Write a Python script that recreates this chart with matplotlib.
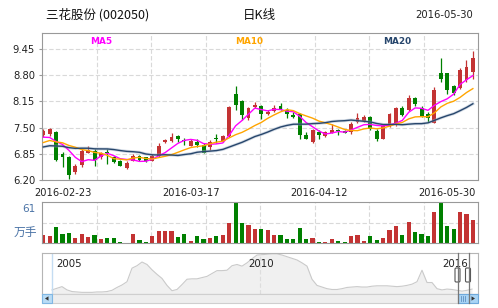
import numpy as np
import pandas as pd
import matplotlib
matplotlib.use('Agg')
import matplotlib.pyplot as plt
from matplotlib.patches import Rectangle, FancyBboxPatch, Polygon

# daily K-line, 三花股份 (002050)
open_ = [7.32, 7.33, 7.38, 6.85, 6.76, 6.41, 6.57, 6.88, 6.93, 6.76,
         6.90, 6.76, 6.67, 6.49, 6.68, 6.80, 6.76, 6.67, 6.80, 7.14,
         7.18, 7.29, 7.19, 7.05, 7.14, 7.07, 7.03, 7.24, 7.18, 7.29,
         8.33, 8.16, 7.73, 8.02, 8.04, 7.83, 7.91, 8.04, 7.95, 7.81,
         7.85, 7.32, 7.14, 7.40, 7.30, 7.36, 7.44, 7.42, 7.40, 7.65,
         7.67, 7.77, 7.42, 7.22, 7.54, 7.57, 8.00, 7.94, 8.23, 8.00,
         7.84, 7.62, 8.86, 8.85, 8.53, 8.48, 8.68, 8.89]
high = [7.47, 7.48, 7.42, 6.90, 6.80, 6.59, 6.97, 7.05, 6.97, 6.90,
        6.96, 6.80, 6.70, 6.66, 6.84, 6.82, 6.78, 6.84, 7.11, 7.23,
        7.36, 7.32, 7.25, 7.21, 7.23, 7.11, 7.19, 7.33, 7.32, 8.04,
        8.53, 8.19, 8.02, 8.14, 8.06, 7.94, 8.06, 8.10, 7.98, 7.90,
        7.87, 7.38, 7.46, 7.44, 7.42, 7.58, 7.46, 7.44, 7.63, 7.87,
        7.81, 7.79, 7.46, 7.57, 7.87, 8.02, 8.04, 8.31, 8.27, 8.04,
        7.90, 8.50, 9.22, 8.86, 8.57, 8.97, 9.18, 9.40]
low = [7.26, 7.29, 6.68, 6.53, 6.22, 6.35, 6.53, 6.86, 6.55, 6.71,
       6.59, 6.61, 6.55, 6.47, 6.66, 6.67, 6.64, 6.66, 6.78, 7.11,
       7.14, 7.14, 7.07, 7.04, 7.01, 6.86, 6.94, 7.13, 7.15, 7.28,
       7.94, 7.69, 7.69, 8.00, 7.71, 7.81, 7.90, 7.94, 7.73, 7.73,
       7.23, 7.21, 7.13, 7.23, 7.28, 7.36, 7.32, 7.36, 7.33, 7.62,
       7.65, 7.44, 7.17, 7.21, 7.52, 7.55, 7.79, 7.92, 8.04, 7.76,
       7.65, 7.61, 8.64, 8.33, 8.31, 8.45, 8.64, 8.70]
close = [7.42, 7.46, 6.70, 6.78, 6.32, 6.55, 6.93, 6.94, 6.70, 6.86,
         6.88, 6.64, 6.56, 6.61, 6.80, 6.70, 6.66, 6.80, 7.05, 7.19,
         7.28, 7.23, 7.17, 7.17, 7.07, 6.88, 7.15, 7.21, 7.29, 8.02,
         8.06, 7.81, 7.98, 8.06, 7.83, 7.90, 8.00, 7.96, 7.85, 7.77,
         7.32, 7.23, 7.44, 7.32, 7.40, 7.44, 7.42, 7.36, 7.59, 7.73,
         7.76, 7.46, 7.23, 7.54, 7.84, 7.98, 7.81, 8.24, 8.08, 7.79,
         7.73, 8.43, 8.70, 8.43, 8.37, 8.93, 9.01, 9.22]
# closes before the visible window (only used to warm up the moving averages)
prior_close = [6.85, 6.80, 6.95, 7.00, 6.90, 6.85, 6.95, 7.00, 6.90, 6.90,
               6.95, 7.05, 7.00, 6.98, 7.00, 7.50, 7.20, 7.15, 7.05]
# volume, 万手
volume = [12.2, 10.7, 23.9, 13.7, 15.1, 7.8, 13.7, 9.3, 12.2, 6.3,
          7.8, 7.8, 2.0, 0.5, 13.7, 4.9, 2.0, 10.7, 18.1, 18.1,
          18.1, 9.3, 13.7, 3.4, 10.7, 6.3, 7.8, 10.7, 12.2, 29.8,
          59.0, 29.8, 26.8, 21.0, 21.0, 19.5, 12.2, 12.2, 6.3, 6.3,
          22.4, 6.3, 7.8, 2.0, 2.0, 6.3, 3.4, 2.0, 10.7, 12.2,
          3.4, 10.7, 4.9, 7.8, 19.5, 25.9, 12.2, 31.7, 16.6, 13.7,
          10.7, 45.8, 59.0, 25.4, 21.0, 45.8, 42.9, 34.1]
date_labels = ['2016-02-23', '2016-03-17', '2016-04-12', '2016-05-30']
date_pos = [3, 23, 43, 63]
price_ticks = [6.20, 6.85, 7.50, 8.15, 8.80, 9.45]
ma_windows = [5, 10, 20]
ma_colors = ['#ff00ff', '#ffa500', '#27466c']

# navigator: long history 2005-2016 (relative level)
nav_level = [0.10, 0.14, 0.18, 0.10, 0.06, 0.05, 0.04, 0.04, 0.04, 0.05,
             0.05, 0.06, 0.09, 0.16, 0.22, 0.30, 0.63, 0.69, 0.78, 0.72,
             0.59, 0.48, 0.38, 0.21, 0.08, 0.11, 0.23, 0.36, 0.37, 0.37,
             0.40, 0.43, 0.50, 0.57, 0.57, 0.58, 0.69, 0.72, 0.68, 0.76,
             0.86, 0.95, 0.96, 0.97, 0.98, 0.98, 0.95, 0.91, 0.87, 0.83,
             0.76, 0.68, 0.36, 0.21, 0.17, 0.13, 0.11, 0.11, 0.13, 0.16,
             0.17, 0.18, 0.17, 0.17, 0.19, 0.20, 0.20, 0.20, 0.19, 0.18,
             0.19, 0.21, 0.24, 0.30, 0.58, 0.28, 0.28, 0.13, 0.10, 0.12,
             0.11, 0.09, 0.07, 0.09, 0.12]
nav_years = ['2005', '2010', '2016']
nav_year_pos = [0.8, 41.8, 78.0]

RED = '#c33333'
GREEN = '#008000'
GRID = '#d9d9d9'
FRAME = '#999999'
CJK = ['Noto Sans CJK SC', 'DejaVu Sans']

W, H = 498, 308
fig = plt.figure(figsize=(W / 100, H / 100), dpi=100)
fig.patch.set_facecolor('white')


def box(l, t, r, b):
    return [l / W, 1 - b / H, (r - l) / W, (b - t) / H]


def text(x, y, s, **kw):
    kw.setdefault('va', 'center')
    fig.text(x / W, 1 - y / H, s, **kw)


o = np.array(open_)
c = np.array(close)
x = np.arange(len(c))
colors = np.where(c >= o, RED, GREEN)
xlim = (-0.2, len(c) - 0.2)
xgrid = np.linspace(xlim[0], xlim[1], 9)[1:-1]


def style(a):
    for s in a.spines.values():
        s.set_color(FRAME)
        s.set_linewidth(0.8)
    a.set_axisbelow(True)


# main K-line panel
ax = fig.add_axes(box(42, 33, 478, 180))
style(ax)
ax.vlines(x, low, high, colors=colors, lw=0.9)
body = np.maximum(np.abs(c - o), 0.02)
ax.bar(x, body, bottom=np.minimum(o, c), width=0.6, color=colors, linewidth=0)

allc = pd.Series(prior_close + close)
for n, col in zip(ma_windows, ma_colors):
    ma = allc.rolling(n).mean().to_numpy()[len(prior_close):]
    if n == 20:
        ax.plot(x, ma, color='#9fb0c6', lw=2.2, alpha=0.45, zorder=2)
    ax.plot(x, ma, color=col, lw=1.0, zorder=3)

ax.set_xlim(*xlim)
ax.set_ylim(6.20, 9.85)
ax.set_yticks(price_ticks)
ax.set_yticklabels(['%.2f' % v for v in price_ticks])
ax.set_xticks(xgrid)
ax.set_xticklabels([])
ax.set_xticks(date_pos, minor=True)
ax.set_xticklabels(date_labels, minor=True)
ax.tick_params(axis='x', which='both', length=0, pad=6, labelsize=7.1, labelcolor='#222')
ax.tick_params(axis='y', length=2.5, color=FRAME, pad=2.5, labelsize=7.2, labelcolor='#222')
ax.grid(True, which='major', color=GRID, lw=0.8, ls=(0, (4, 2)))

text(101, 42, 'MA5', color=ma_colors[0], fontsize=6.4, weight='bold', ha='center')
text(249, 42, 'MA10', color=ma_colors[1], fontsize=6.4, weight='bold', ha='center')
text(397, 42, 'MA20', color=ma_colors[2], fontsize=6.4, weight='bold', ha='center')

text(46, 15, '三花股份 (002050)', fontsize=9, ha='left', family=CJK, color='#111')
text(259, 15, '日K线', fontsize=9, ha='center', family=CJK, color='#111')
text(473, 15, '2016-05-30', fontsize=7.2, ha='right', color='#222')

# volume panel
av = fig.add_axes(box(42, 202, 478, 243))
style(av)
av.bar(x, volume, width=0.65, color=colors, linewidth=0)
av.set_xlim(*xlim)
av.set_ylim(0, 61)
av.set_xticks(xgrid)
av.set_yticks([30.5])
av.tick_params(length=0, labelbottom=False, labelleft=False)
av.grid(True, color=GRID, lw=0.8, ls=(0, (4, 2)))
text(35, 209, '61', fontsize=7.5, ha='right', color='#4a73a6')
text(37, 233, '万手', fontsize=8.5, ha='right', color='#4a73a6', family=CJK)

# navigator
an = fig.add_axes(box(42, 253, 478, 294))
for s in an.spines.values():
    s.set_color('#b5b5b5')
    s.set_linewidth(0.8)
nx = np.arange(len(nav_level))
an.fill_between(nx, nav_level, 0, color='#f0f0f0', lw=0)
an.plot(nx, nav_level, color='#cacaca', lw=0.8)
an.axvline(0, color='#c4dcf2', lw=1)
an.axvline(41.6, color='#dddddd', lw=0.8, ls=(0, (4, 2)))
an.set_xlim(-2, 85.2)
an.set_ylim(0, 1.0)
an.set_xticks([])
an.set_yticks([])
for yr, p in zip(nav_years, nav_year_pos):
    an.text(p, 0.74, yr, fontsize=7.4, color='#222', ha='left' if yr != '2010' else 'center',
            va='center')

# scrollbar, handles and outline drawn in pixel space
ov = fig.add_axes([0, 0, 1, 1])
ov.set_xlim(0, W)
ov.set_ylim(H, 0)
ov.axis('off')
ov.patch.set_alpha(0)
ov.add_patch(Rectangle((42, 294), 436, 9, fc='#eeeeee', ec='#cfcfcf', lw=0.8))
ov.add_patch(Rectangle((42, 294), 10, 9, fc='#b9dcf6', ec='#80b7e3', lw=0.8))
ov.add_patch(Polygon([(45, 298.5), (48.5, 296.3), (48.5, 300.7)], closed=True, fc='#333', ec='none'))
ov.add_patch(Rectangle((457.5, 294), 11, 9, fc='#a9d4f5', ec='#6fa9db', lw=0.8))
for gx in (461, 463, 465):
    ov.plot([gx, gx], [296, 301], color='#5f8fc0', lw=0.6)
ov.add_patch(Rectangle((468.5, 294), 9.5, 9, fc='#a9d4f5', ec='#6fa9db', lw=0.8))
ov.add_patch(Polygon([(475, 298.5), (471.5, 296.3), (471.5, 300.7)], closed=True, fc='#333', ec='none'))
ov.plot([457.5, 457.5], [253, 303], color='#777777', lw=0.9)
ov.plot([468.5, 468.5], [253, 303], color='#777777', lw=0.9)
for hx in (455, 465.5):
    ov.add_patch(FancyBboxPatch((hx, 268), 5, 14, boxstyle='round,pad=0,rounding_size=1.2',
                                fc='white', ec='#555555', lw=0.8))

fig.savefig('out.png', dpi=100, facecolor='white')
